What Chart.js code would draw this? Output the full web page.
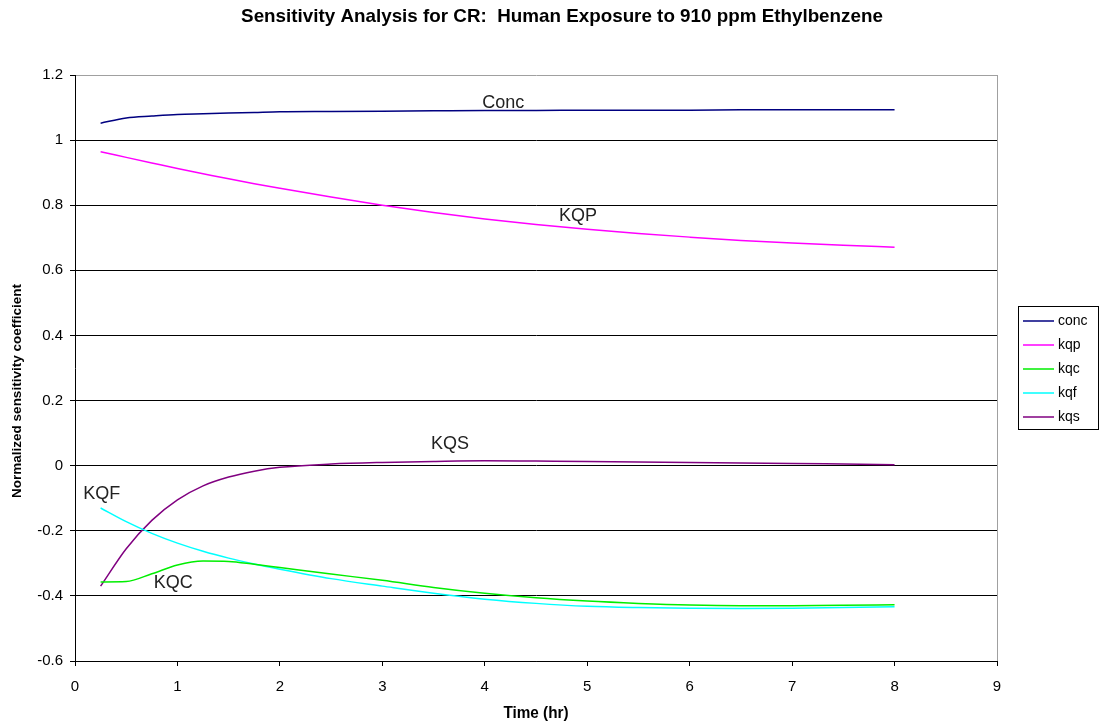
<!DOCTYPE html>
<html>
<head>
<meta charset="utf-8">
<script src="https://cdn.jsdelivr.net/npm/chart.js@4.4.1/dist/chart.umd.min.js"></script>
<style>
  html, body { margin: 0; padding: 0; background: #fff; }
  #wrap { width: 1099px; height: 728px; }
</style>
</head>
<body>
<div id="wrap"><canvas id="chart" width="1099" height="728"></canvas></div>
<script>
// time points (hr)
const times = [0.25, 0.5, 0.75, 1, 1.25, 1.5, 1.75, 2, 2.5, 3, 3.5, 4, 4.5, 5, 5.5, 6, 6.5, 7, 7.5, 8];

// sensitivity coefficients
const conc = [1.052, 1.068, 1.074, 1.079, 1.081, 1.083, 1.085, 1.087, 1.088, 1.089, 1.090, 1.091, 1.091, 1.092, 1.092, 1.092, 1.093, 1.093, 1.093, 1.093];
const kqp  = [0.964, 0.947, 0.930, 0.913, 0.897, 0.881, 0.866, 0.852, 0.825, 0.800, 0.778, 0.758, 0.741, 0.726, 0.713, 0.702, 0.692, 0.684, 0.677, 0.671];
const kqc  = [-0.357, -0.356, -0.332, -0.305, -0.293, -0.294, -0.303, -0.313, -0.333, -0.352, -0.374, -0.392, -0.406, -0.416, -0.423, -0.428, -0.430, -0.430, -0.429, -0.427];
const kqf  = [-0.130, -0.172, -0.208, -0.238, -0.263, -0.284, -0.302, -0.318, -0.347, -0.370, -0.392, -0.410, -0.423, -0.432, -0.436, -0.438, -0.439, -0.438, -0.436, -0.433];
const kqs  = [-0.370, -0.255, -0.168, -0.105, -0.062, -0.035, -0.017, -0.005, 0.005, 0.010, 0.013, 0.015, 0.014, 0.013, 0.011, 0.010, 0.008, 0.007, 0.005, 0.003];

const seriesNames = ['conc', 'kqp', 'kqc', 'kqf', 'kqs'];
const seriesColors = ['#000080', '#ff00ff', '#00ee00', '#00ffff', '#800080'];

// in-plot labels
const noteText = ['Conc', 'KQP', 'KQS', 'KQF', 'KQC'];
const noteX = [4.18, 4.91, 3.66, 0.26, 0.96];
const noteY = [1.114, 0.767, 0.067, -0.087, -0.36];

const toPoints = (ys) => times.map((t, i) => ({ x: t, y: ys[i] }));
const allSeries = [conc, kqp, kqc, kqf, kqs];

const FONT = "'Liberation Sans', Arial, sans-serif";

const decorPlugin = {
    id: 'decor',
    beforeDatasetsDraw(chart) {
        const { ctx, chartArea: a } = chart;
        ctx.save();
        ctx.strokeStyle = '#a0a0a0';
        ctx.lineWidth = 1;
        ctx.beginPath();
        ctx.moveTo(a.right + 0.5, a.top);
        ctx.lineTo(a.right + 0.5, a.bottom);
        ctx.stroke();
        ctx.restore();
    },
    afterDraw(chart) {
        const { ctx, chartArea: a, scales } = chart;
        ctx.save();
        // title
        ctx.fillStyle = '#000';
        ctx.textAlign = 'center';
        ctx.textBaseline = 'middle';
        ctx.save();
        ctx.translate(562, 17);
        ctx.scale(0.99, 1);
        ctx.font = 'bold 19px ' + FONT;
        ctx.fillText('Sensitivity Analysis for CR:  Human Exposure to 910 ppm Ethylbenzene', 0, 0);
        ctx.restore();

        // axis titles
        ctx.save();
        ctx.translate((a.left + a.right) / 2, 713);
        ctx.scale(0.9, 1);
        ctx.font = 'bold 17px ' + FONT;
        ctx.fillText('Time (hr)', 0, 0);
        ctx.restore();
        ctx.save();
        ctx.translate(17, 391);
        ctx.rotate(-Math.PI / 2);
        ctx.font = 'bold 13.5px ' + FONT;
        ctx.fillText('Normalized sensitivity coefficient', 0, 0);
        ctx.restore();

        // notes inside plot
        ctx.font = '18px ' + FONT;
        ctx.fillStyle = '#222';
        noteText.forEach((txt, i) => {
            ctx.fillText(txt, scales.x.getPixelForValue(noteX[i]), scales.y.getPixelForValue(noteY[i]));
        });

        // legend box
        ctx.strokeStyle = '#000';
        ctx.lineWidth = 1;
        ctx.strokeRect(1018.5, 306.5, 80, 123);
        ctx.font = '14px ' + FONT;
        ctx.textAlign = 'left';
        seriesNames.forEach((name, i) => {
            const y = 321 + i * 24;
            ctx.strokeStyle = seriesColors[i];
            ctx.lineWidth = 1.5;
            ctx.beginPath();
            ctx.moveTo(1023, y);
            ctx.lineTo(1054, y);
            ctx.stroke();
            ctx.fillStyle = '#000';
            ctx.fillText(name, 1058, y);
        });
        ctx.restore();
    }
};

new Chart(document.getElementById('chart'), {
    type: 'line',
    data: {
        datasets: seriesNames.map((name, i) => ({
            label: name,
            data: toPoints(allSeries[i]),
            borderColor: seriesColors[i],
            backgroundColor: seriesColors[i],
            borderWidth: 1.5,
            pointRadius: 0,
            cubicInterpolationMode: 'monotone',
            fill: false
        }))
    },
    options: {
        responsive: false,
        animation: false,
        layout: { padding: { left: 0, top: 75, right: 102, bottom: 0 } },
        plugins: {
            legend: { display: false },
            title: { display: false },
            tooltip: { enabled: false }
        },
        scales: {
            x: {
                type: 'linear',
                min: 0,
                max: 9,
                afterFit: (s) => { s.height = 67; },
                ticks: {
                    stepSize: 1,
                    color: '#000',
                    font: { family: FONT, size: 15 },
                    padding: 12
                },
                grid: {
                    drawOnChartArea: false,
                    color: '#000',
                    tickLength: 5
                },
                border: { color: '#000' }
            },
            y: {
                min: -0.6,
                max: 1.2,
                afterFit: (s) => { s.width = 75; },
                ticks: {
                    stepSize: 0.2,
                    color: '#000',
                    font: { family: FONT, size: 15 },
                    padding: 7,
                    callback: (v) => String(Math.round(v * 10) / 10)
                },
                grid: {
                    color: (c) => (c.tick && Math.abs(c.tick.value - 1.2) < 1e-6) ? '#a0a0a0' : '#000',
                    tickColor: '#000',
                    tickLength: 5
                },
                border: { color: '#000' }
            }
        }
    },
    plugins: [decorPlugin]
});
</script>
</body>
</html>
